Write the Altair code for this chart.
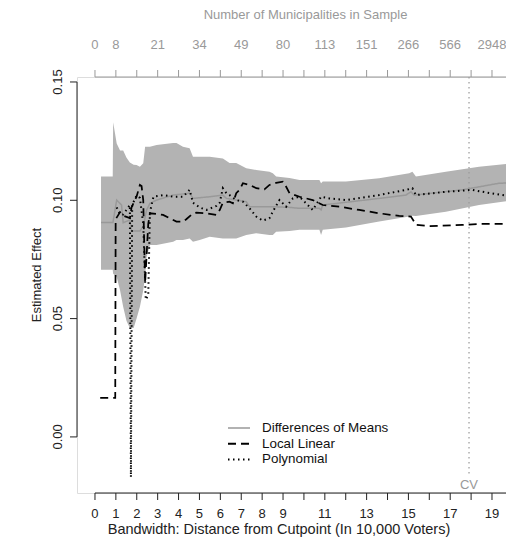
import altair as alt
import pandas as pd

# ---------------- data ----------------
band_x = [0.29, 0.85, 0.87, 1.04, 1.20, 1.35, 1.51, 1.67, 1.85, 1.99,
          2.15, 2.31, 2.40, 2.47, 2.63, 2.95, 3.74, 3.90, 4.21, 4.53,
          4.69, 5.01, 5.49, 6.12, 6.44, 6.76, 7.24, 7.72, 8.35, 8.51,
          8.67, 9.31, 9.79, 10.74, 10.82, 10.90, 12.01, 13.60, 15.04, 15.19,
          15.36, 16.79, 18.38, 20.2]
band_hi = [0.110, 0.110, 0.133, 0.124, 0.121, 0.121, 0.118, 0.116, 0.115, 0.1149,
           0.1142, 0.1156, 0.1226, 0.1226, 0.1226, 0.1234, 0.1242, 0.1242, 0.1226, 0.1220,
           0.1184, 0.1184, 0.1184, 0.1177, 0.1158, 0.1158, 0.1135, 0.1128, 0.1121, 0.1114,
           0.1100, 0.1094, 0.1086, 0.1086, 0.1072, 0.1079, 0.1079, 0.1093, 0.1114, 0.1121,
           0.1100, 0.1121, 0.1142, 0.1158]
band_lo = [0.0706, 0.0706, 0.0690, 0.0676, 0.062, 0.055, 0.049, 0.046, 0.046, 0.050,
           0.055, 0.062, 0.068, 0.076, 0.0811, 0.0811, 0.0825, 0.0832, 0.0832, 0.0839,
           0.0825, 0.0832, 0.0846, 0.0839, 0.0839, 0.0839, 0.0853, 0.0861, 0.0853, 0.0853,
           0.0867, 0.0870, 0.0875, 0.0875, 0.0853, 0.0875, 0.0885, 0.0910, 0.0931, 0.0935,
           0.0934, 0.0952, 0.0980, 0.1003]

mean_x = [0.29, 0.86, 1.04, 1.27, 1.35, 1.67, 1.75, 2.15, 2.31, 2.47,
          2.63, 2.95, 3.74, 4.53, 4.69, 5.49, 6.12, 6.29, 6.76, 7.24,
          7.40, 8.51, 9.31, 9.79, 10.74, 10.82, 10.90, 13.60, 14.88, 15.12,
          15.27, 17.58, 19.33, 20.2]
mean_y = [0.0906, 0.0906, 0.1001, 0.0980, 0.0905, 0.0917, 0.0870, 0.0870, 0.0890, 0.0959,
          0.0987, 0.1001, 0.1022, 0.1030, 0.1008, 0.1015, 0.1022, 0.1008, 0.1001, 0.0994,
          0.0973, 0.0973, 0.0970, 0.0966, 0.0966, 0.0959, 0.0980, 0.1008, 0.1022, 0.1036,
          0.1022, 0.1044, 0.1072, 0.1074]

ll_x = [0.25, 0.97, 0.99, 1.20, 1.35, 1.51, 1.67, 1.75, 1.99, 2.15,
        2.23, 2.31, 2.40, 2.55, 2.63, 2.95, 3.26, 3.58, 3.90, 4.21,
        4.37, 4.69, 4.85, 5.33, 5.81, 5.97, 6.12, 6.44, 6.60, 6.76,
        6.92, 7.08, 7.40, 7.72, 8.11, 8.35, 8.67, 8.99, 9.15, 9.31,
        9.79, 10.42, 10.90, 11.69, 12.65, 13.60, 14.56, 15.12, 15.27, 15.36,
        15.99, 17.58, 18.38, 20.2]
ll_y = [0.0165, 0.0165, 0.092, 0.095, 0.0935, 0.093, 0.0925, 0.097, 0.1015, 0.1065,
        0.106, 0.1001, 0.065, 0.090, 0.0945, 0.0942, 0.0938, 0.0924, 0.0910, 0.0910,
        0.0920, 0.0945, 0.0948, 0.0945, 0.0938, 0.0959, 0.0990, 0.0994, 0.0987, 0.1030,
        0.1044, 0.1072, 0.1065, 0.1051, 0.1046, 0.1065, 0.1074, 0.1079, 0.1057, 0.1030,
        0.1015, 0.1001, 0.0980, 0.0973, 0.0959, 0.0945, 0.0934, 0.0931, 0.0910, 0.0896,
        0.0891, 0.0896, 0.0900, 0.0900]

poly_x = [1.04, 1.20, 1.35, 1.51, 1.67, 1.72, 1.78, 1.99, 2.15, 2.31,
          2.43, 2.55, 2.63, 2.80, 3.26, 3.74, 4.21, 4.53, 4.69, 5.01,
          5.33, 5.81, 5.97, 6.12, 6.29, 6.44, 6.76, 7.08, 7.40, 7.72,
          8.03, 8.35, 8.51, 8.83, 9.15, 9.47, 9.79, 10.42, 10.82, 11.22,
          12.01, 13.60, 14.88, 15.19, 15.36, 16.79, 18.06, 18.53, 20.2]
poly_y = [0.097, 0.094, 0.094, 0.096, 0.098, -0.017, 0.098, 0.102, 0.101, 0.090,
          0.058, 0.060, 0.095, 0.1015, 0.1022, 0.1015, 0.1015, 0.1044, 0.0990, 0.0970,
          0.0959, 0.0976, 0.0990, 0.1051, 0.1030, 0.1022, 0.1001, 0.0994, 0.0966, 0.0931,
          0.0914, 0.0924, 0.0952, 0.1001, 0.0973, 0.1008, 0.1015, 0.0959, 0.1015, 0.1008,
          0.1001, 0.1022, 0.1044, 0.1051, 0.1022, 0.1036, 0.1044, 0.1036, 0.1012]

series_names = ["Differences of Means", "Local Linear", "Polynomial"]
series_colors = ["#999999", "#000000", "#000000"]
series_dashes = [[1, 0], [8, 5], [1.5, 3.5]]
series_widths = [1.5, 2, 2]

tick_values = list(range(0, 21))
bottom_tick_labels = ["0", "1", "2", "3", "4", "5", "6", "7", "8", "9", "",
                      "11", "", "13", "", "15", "", "17", "", "19", ""]
top_tick_labels = ["0", "8", "", "21", "", "34", "", "49", "", "80", "",
                   "113", "", "151", "", "266", "", "566", "", "2948", ""]
y_tick_values = [0.0, 0.05, 0.10, 0.15]
y_tick_labels = ["0.00", "0.05", "0.10", "0.15"]

x_title = "Bandwidth: Distance from Cutpoint (In 10,000 Voters)"
y_title = "Estimated Effect"
top_title_text = "Number of Municipalities in Sample"

cv_x = 17.9
x_domain = [-0.86, 19.67]
y_domain = [-0.0237, 0.1521]

# ---------------- tables ----------------
band_df = pd.DataFrame({"x": band_x, "lo": band_lo, "hi": band_hi})
rows = []
for name, xs_, ys_ in [(series_names[0], mean_x, mean_y),
                       (series_names[1], ll_x, ll_y),
                       (series_names[2], poly_x, poly_y)]:
    for i, (a, b) in enumerate(zip(xs_, ys_)):
        rows.append({"series": name, "x": a, "y": b, "i": i})
lines_df = pd.DataFrame(rows)
xt_df = pd.DataFrame({"v": tick_values, "bot": bottom_tick_labels, "top": top_tick_labels})
yt_df = pd.DataFrame({"v": y_tick_values, "lab": y_tick_labels})
one = pd.DataFrame({"k": [0]})

W, H = 429, 416
FONT = "Liberation Sans"
DARK = "#222222"
GREY = "#999999"

xs = alt.Scale(domain=x_domain, nice=False, zero=False)
ys = alt.Scale(domain=y_domain, nice=False, zero=False)

band = alt.Chart(band_df).mark_area(color="#b3b3b3", clip=True).encode(
    x=alt.X("x:Q", scale=xs, axis=None),
    y=alt.Y("lo:Q", scale=ys, axis=None),
    y2="hi:Q",
)

lines = alt.Chart(lines_df).mark_line(clip=True).encode(
    x=alt.X("x:Q", scale=xs, axis=None),
    y=alt.Y("y:Q", scale=ys, axis=None),
    color=alt.Color("series:N", scale=alt.Scale(domain=series_names,
                    range=series_colors), legend=None),
    strokeDash=alt.StrokeDash("series:N", scale=alt.Scale(domain=series_names,
                              range=series_dashes), legend=None),
    strokeWidth=alt.StrokeWidth("series:N", scale=alt.Scale(domain=series_names,
                                range=series_widths), legend=None),
    order=alt.Order("i:Q"),
    detail="series:N",
)

# ---------- bottom axis (R style: line from first to last tick) ----------
bottom_line = alt.Chart(one).mark_rule(color=DARK, strokeWidth=1).encode(
    x=alt.XDatum(tick_values[0], scale=xs, axis=None),
    x2=alt.X2Datum(tick_values[-1]),
    y=alt.value(H),
)
bottom_ticks = alt.Chart(xt_df).mark_rule(color=DARK, strokeWidth=1).encode(
    x=alt.X("v:Q", scale=xs, axis=None),
    y=alt.value(H), y2=alt.value(H + 7),
)
bottom_labels = alt.Chart(xt_df).mark_text(
    color=DARK, fontSize=13, font=FONT, baseline="middle", align="center"
).encode(
    x=alt.X("v:Q", scale=xs, axis=None),
    y=alt.value(H + 20.5),
    text="bot:N",
)
bottom_title = alt.Chart(one).mark_text(
    text=x_title, color=DARK, fontSize=14.5, font=FONT,
    baseline="alphabetic", align="center"
).encode(x=alt.value(202), y=alt.value(H + 40.7))

# ---------- left axis ----------
left_line = alt.Chart(one).mark_rule(color=DARK, strokeWidth=1).encode(
    y=alt.YDatum(y_tick_values[0], scale=ys, axis=None),
    y2=alt.Y2Datum(y_tick_values[-1]),
    x=alt.value(0),
)
left_ticks = alt.Chart(yt_df).mark_rule(color=DARK, strokeWidth=1).encode(
    y=alt.Y("v:Q", scale=ys, axis=None),
    x=alt.value(-7), x2=alt.value(0),
)
left_labels = alt.Chart(yt_df).mark_text(
    color=DARK, fontSize=13, font=FONT, baseline="middle", align="center", angle=270
).encode(
    y=alt.Y("v:Q", scale=ys, axis=None),
    x=alt.value(-19),
    text="lab:N",
)
left_title = alt.Chart(one).mark_text(
    text=y_title, color=DARK, fontSize=13, font=FONT,
    baseline="middle", align="center", angle=270
).encode(x=alt.value(-40), y=alt.value(198))

# ---------- top axis: number of municipalities ----------
top_line = alt.Chart(one).mark_rule(color=GREY, strokeWidth=1).encode(
    x=alt.XDatum(tick_values[0], scale=xs, axis=None),
    x2=alt.X2Datum(tick_values[-1]),
    y=alt.value(0),
)
top_ticks = alt.Chart(xt_df).mark_rule(color=GREY, strokeWidth=1).encode(
    x=alt.X("v:Q", scale=xs, axis=None),
    y=alt.value(-7), y2=alt.value(0),
)
top_labels = alt.Chart(xt_df).mark_text(
    color=GREY, fontSize=13, font=FONT, baseline="middle", align="center"
).encode(
    x=alt.X("v:Q", scale=xs, axis=None),
    y=alt.value(-32),
    text="top:N",
)
top_title = alt.Chart(one).mark_text(
    text=top_title_text, color=GREY, fontSize=13, font=FONT,
    baseline="middle", align="center"
).encode(x=alt.value(W / 2 + 14), y=alt.value(-62))

# ---------- CV marker ----------
cv_line = alt.Chart(one).mark_rule(color=GREY, strokeWidth=1.2, strokeDash=[1.5, 3.5]).encode(
    x=alt.XDatum(cv_x, scale=xs, axis=None),
    y=alt.YDatum(y_domain[1], scale=ys, axis=None),
    y2=alt.Y2Datum(-0.0165),
)
cv_text = alt.Chart(one).mark_text(text="CV", color=GREY, fontSize=13, font=FONT).encode(
    x=alt.XDatum(cv_x, scale=xs, axis=None),
    y=alt.YDatum(-0.0203, scale=ys, axis=None),
)

# ---------- legend (R style, tight rows) ----------
legend_layers = []
for k, name in enumerate(series_names):
    yk = 351 + 15.7 * k
    legend_layers.append(
        alt.Chart(one).mark_rule(color=series_colors[k], strokeWidth=series_widths[k],
                                 strokeDash=series_dashes[k]).encode(
            x=alt.value(151), x2=alt.value(173), y=alt.value(yk))
    )
    legend_layers.append(
        alt.Chart(one).mark_text(text=name, color="#111111", fontSize=13.4, font=FONT,
                                 align="left", baseline="middle").encode(
            x=alt.value(185), y=alt.value(yk))
    )

chart = alt.layer(
    band, cv_line, lines,
    bottom_line, bottom_ticks, bottom_labels, bottom_title,
    left_line, left_ticks, left_labels, left_title,
    top_line, top_ticks, top_labels, top_title,
    cv_text, *legend_layers
).properties(
    width=W, height=H,
    autosize=alt.AutoSizeParams(type="none"),
    padding={"left": 69, "top": 69, "right": 0, "bottom": 44},
).configure_view(stroke=None).configure(font=FONT)

chart.save("out.html", embed_options={"renderer": "svg", "actions": False})
